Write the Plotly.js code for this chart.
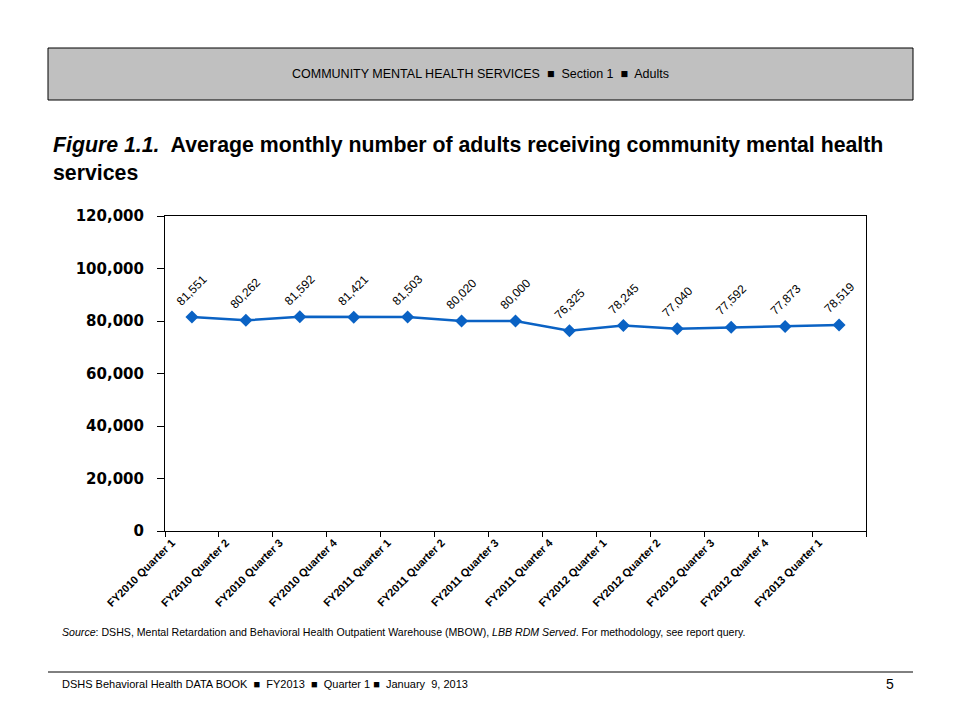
<!DOCTYPE html>
<html>
<head>
<meta charset="utf-8">
<script src="https://cdn.plot.ly/plotly-3.0.1.min.js"></script>
<style>
html,body{margin:0;padding:0;background:#fff;}
#chart{width:960px;height:720px;}
</style>
</head>
<body>
<div id="chart"></div>
<script>
const categories = ["FY2010 Quarter 1","FY2010 Quarter 2","FY2010 Quarter 3","FY2010 Quarter 4",
  "FY2011 Quarter 1","FY2011 Quarter 2","FY2011 Quarter 3","FY2011 Quarter 4",
  "FY2012 Quarter 1","FY2012 Quarter 2","FY2012 Quarter 3","FY2012 Quarter 4","FY2013 Quarter 1"];
const adults = [81551,80262,81592,81421,81503,80020,80000,76325,78245,77040,77592,77873,78519];
const yTicks = [0,20000,40000,60000,80000,100000,120000];

const W = 960, H = 720;
const px = v => v / W, py = v => 1 - v / H;

const fmt = v => v.toLocaleString('en-US');

const trace = {
  type: 'scatter', mode: 'lines+markers',
  x: categories, y: adults,
  line: {color: '#0a62c4', width: 2.5},
  marker: {symbol: 'diamond', size: 10, color: '#0a62c4'},
  hoverinfo: 'x+y', showlegend: false
};

const annotations = adults.map((v, i) => ({
  x: categories[i], y: v, xref: 'x', yref: 'y',
  text: fmt(v), textangle: -45, showarrow: false, yshift: 27,
  font: {family: 'Liberation Sans, Arial', size: 12, color: '#000'}
}));

annotations.push(
  {xref:'paper', yref:'paper', x: px(480), y: py(74), text: 'COMMUNITY MENTAL HEALTH SERVICES  ■  Section 1  ■  Adults',
   showarrow:false, xanchor:'center', yanchor:'middle',
   font:{family:'Liberation Sans, Arial', size:12.5, color:'#000'}},
  {xref:'paper', yref:'paper', x: px(51), y: py(131), xanchor:'left', yanchor:'top', align:'left', showarrow:false,
   text: '<b><i>Figure 1.1.</i>  Average monthly number of adults receiving community mental health<br>services</b>',
   font:{family:'Liberation Sans, Arial', size:21.3, color:'#000'}},
  {xref:'paper', yref:'paper', x: px(60), y: py(632), xanchor:'left', yanchor:'middle', showarrow:false,
   text: '<i>Source</i>: DSHS, Mental Retardation and Behavioral Health Outpatient Warehouse (MBOW), <i>LBB RDM Served</i>. For methodology, see report query.',
   font:{family:'Liberation Sans, Arial', size:10.6, color:'#000'}},
  {xref:'paper', yref:'paper', x: px(60), y: py(684), xanchor:'left', yanchor:'middle', showarrow:false,
   text: 'DSHS Behavioral Health DATA BOOK  ■  FY2013  ■  Quarter 1 ■  January  9, 2013',
   font:{family:'Liberation Sans, Arial', size:11, color:'#000'}},
  {xref:'paper', yref:'paper', x: px(890), y: py(684), xanchor:'center', yanchor:'middle', showarrow:false,
   text: '5', font:{family:'Liberation Sans, Arial', size:14, color:'#000'}}
);

const layout = {
  width: W, height: H,
  margin: {l:0, r:0, t:0, b:0},
  paper_bgcolor: '#fff', plot_bgcolor: '#fff',
  xaxis: {
    domain: [px(165), px(866)],
    type: 'category', range: [-0.5, 12.5],
    showline: true, linecolor: '#000', linewidth: 1, mirror: true,
    ticks: 'outside', ticklen: 5, tickcolor: '#000', tickson: 'boundaries',
    showgrid: false, zeroline: false,
    tickangle: -45, ticklabelshift: -20,
    tickfont: {family: 'Liberation Sans, Arial', size: 11, color: '#000', weight: 'bold'},
    fixedrange: true
  },
  yaxis: {
    domain: [py(531), py(216)],
    range: [0, 120000],
    tickvals: yTicks, ticktext: yTicks.map(fmt),
    showline: true, linecolor: '#000', linewidth: 1, mirror: true,
    ticks: 'outside', ticklen: 7, tickcolor: '#000', ticklabelstandoff: 10,
    showgrid: false, zeroline: false,
    tickfont: {family: 'DejaVu Sans, Verdana', size: 15, color: '#000', weight: 'bold'},
    fixedrange: true
  },
  shapes: [
    {type:'rect', xref:'paper', yref:'paper', x0: px(48), x1: px(913), y0: py(100), y1: py(48),
     fillcolor:'#c0c0c0', line:{color:'#000', width:1}, layer:'below'},
    {type:'line', xref:'paper', yref:'paper', x0: px(48), x1: px(913), y0: py(672), y1: py(672),
     line:{color:'#000', width:1}}
  ],
  annotations: annotations
};

Plotly.newPlot('chart', [trace], layout, {displayModeBar: false, staticPlot: true});
</script>
</body>
</html>
